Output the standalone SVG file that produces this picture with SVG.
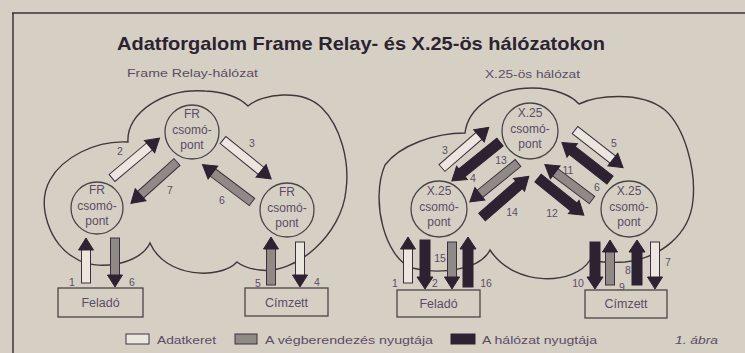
<svg xmlns="http://www.w3.org/2000/svg" width="745" height="353" viewBox="0 0 745 353">
<style>
.bg{fill:#d6d0c4}
.frame{stroke:#3a3438;stroke-width:1.5;fill:none}
.cloud{fill:none;stroke:#3e383c;stroke-width:1.4}
.node{fill:#d6d0c4;stroke:#4a4448;stroke-width:1.3}
.box{fill:#d6d0c4;stroke:#4a4448;stroke-width:1.3}
.t{font-family:"Liberation Sans",Arial,sans-serif;fill:#5b4c66}
.nt{font-size:12px;text-anchor:middle}
.num{font-size:10.5px;text-anchor:middle}
.bt{font-size:12.5px;text-anchor:middle}
.w{fill:#ebe7df;stroke:#3a3040;stroke-width:1}
.g{fill:#8f8a86;stroke:#3a3040;stroke-width:1}
.d{fill:#2c2232;stroke:#2c2232;stroke-width:1}
.hd{fill:#2c2232;stroke:#2c2232;stroke-width:1}
</style>
<rect class="bg" x="0" y="0" width="745" height="353"/>
<path class="frame" d="M12,13 H745 M13,13 V353"/>
<text x="117" y="50" font-family="'Liberation Sans',Arial,sans-serif" font-weight="bold" font-size="19" fill="#2a2430" textLength="488" lengthAdjust="spacingAndGlyphs">Adatforgalom Frame Relay- és X.25-ös hálózatokon</text>
<text class="t" x="127" y="77" font-size="11.5" textLength="131" lengthAdjust="spacingAndGlyphs">Frame Relay-hálózat</text>
<text class="t" x="485" y="78" font-size="11" textLength="95" lengthAdjust="spacingAndGlyphs">X.25-ös hálózat</text>

<g id="clouds">
<path id="cloud-fr" class="cloud" d="M128,142 C126,112 165,88 205,91 C225,92 240,98 248,106 C262,94 302,88 322,108 C340,126 350,160 346,190 C342,235 295,275 260,270 C250,269 242,266 237,262 C220,280 165,278 150,243 C140,265 95,272 75,258 C50,245 36,205 50,180 C62,158 95,140 128,142 Z"/>
<path id="cloud-x25" class="cloud" d="M465,133 C468,108 495,88 532,88 C555,88 572,96 579,104 C595,96 640,90 665,110 C685,128 696,170 693,200 C690,235 660,258 625,262 C610,263 598,262 590,260 C575,285 515,288 490,250 C480,270 440,275 412,268 C385,258 370,200 385,165 C400,145 435,133 465,133 Z"/>
</g>

<g id="connectors">
<g transform="translate(112,178) rotate(-40)"><rect class="w" x="0" y="-4.5" width="50" height="9"/><polygon class="hd" points="49,-8 62,0 49,8"/></g>
<g transform="translate(177,162) rotate(138)"><rect class="g" x="0" y="-4.5" width="50" height="9"/><polygon class="hd" points="49,-8 62,0 49,8"/></g>
<g transform="translate(223,140) rotate(39)"><rect class="w" x="0" y="-4.5" width="50" height="9"/><polygon class="hd" points="49,-8 62,0 49,8"/></g>
<g transform="translate(252,202) rotate(-143)"><rect class="g" x="0" y="-4.5" width="50" height="9"/><polygon class="hd" points="49,-8 62,0 49,8"/></g>
<g transform="translate(86,283) rotate(-90)"><rect class="w" x="0" y="-4.5" width="34" height="9"/><polygon class="hd" points="33,-7.5 45,0 33,7.5"/></g>
<g transform="translate(115,238) rotate(90)"><rect class="g" x="0" y="-4.5" width="38" height="9"/><polygon class="hd" points="37,-7.5 49,0 37,7.5"/></g>
<g transform="translate(271,285) rotate(-90)"><rect class="g" x="0" y="-4.5" width="37" height="9"/><polygon class="hd" points="36,-7.5 48,0 36,7.5"/></g>
<g transform="translate(300,242) rotate(90)"><rect class="w" x="0" y="-4.5" width="34" height="9"/><polygon class="hd" points="33,-7.5 45,0 33,7.5"/></g>
<g transform="translate(442,168) rotate(-41)"><rect class="w" x="0" y="-4.5" width="50" height="9"/><polygon class="hd" points="49,-8 62,0 49,8"/></g>
<g transform="translate(500,142) rotate(141)"><rect class="d" x="0" y="-5" width="50" height="10"/><polygon class="hd" points="49,-8.5 62,0 49,8.5"/></g>
<g transform="translate(518,163) rotate(141)"><rect class="g" x="0" y="-4.5" width="50" height="9"/><polygon class="hd" points="49,-8 62,0 49,8"/></g>
<g transform="translate(482,217) rotate(-41)"><rect class="d" x="0" y="-5" width="50" height="10"/><polygon class="hd" points="49,-8.5 62,0 49,8.5"/></g>
<g transform="translate(592,200) rotate(-143)"><rect class="g" x="0" y="-4.5" width="47" height="9"/><polygon class="hd" points="46,-8 59,0 46,8"/></g>
<g transform="translate(538,178) rotate(39)"><rect class="d" x="0" y="-5" width="47" height="10"/><polygon class="hd" points="46,-8.5 59,0 46,8.5"/></g>
<g transform="translate(610,180) rotate(-142)"><rect class="d" x="0" y="-5" width="49" height="10"/><polygon class="hd" points="48,-8.5 61,0 48,8.5"/></g>
<g transform="translate(575,130) rotate(38)"><rect class="w" x="0" y="-4.5" width="49" height="9"/><polygon class="hd" points="48,-8 61,0 48,8"/></g>
<g transform="translate(408,283) rotate(-90)"><rect class="w" x="0" y="-4.5" width="35" height="9"/><polygon class="hd" points="34,-7.5 46,0 34,7.5"/></g>
<g transform="translate(425,240) rotate(90)"><rect class="d" x="0" y="-5" width="38" height="10"/><polygon class="hd" points="37,-8 49,0 37,8"/></g>
<g transform="translate(452,242) rotate(90)"><rect class="g" x="0" y="-4.5" width="36" height="9"/><polygon class="hd" points="35,-7.5 47,0 35,7.5"/></g>
<g transform="translate(468,287) rotate(-90)"><rect class="d" x="0" y="-5" width="39" height="10"/><polygon class="hd" points="38,-8 50,0 38,8"/></g>
<g transform="translate(595,242) rotate(90)"><rect class="d" x="0" y="-5" width="36" height="10"/><polygon class="hd" points="35,-8 47,0 35,8"/></g>
<g transform="translate(610,285) rotate(-90)"><rect class="g" x="0" y="-4.5" width="34" height="9"/><polygon class="hd" points="33,-7.5 45,0 33,7.5"/></g>
<g transform="translate(637,285) rotate(-90)"><rect class="d" x="0" y="-5" width="34" height="10"/><polygon class="hd" points="33,-8 45,0 33,8"/></g>
<g transform="translate(655,242) rotate(90)"><rect class="w" x="0" y="-4.5" width="36" height="9"/><polygon class="hd" points="35,-7.5 47,0 35,7.5"/></g>
</g>

<g id="labels" class="t num">
<text x="120" y="155">2</text>
<text x="170" y="194">7</text>
<text x="252" y="147">3</text>
<text x="222" y="204">6</text>
<text x="72" y="286">1</text>
<text x="132" y="286">6</text>
<text x="258" y="287">5</text>
<text x="317" y="286">4</text>
<text x="445" y="154">3</text>
<text x="473" y="182">4</text>
<text x="501" y="164">13</text>
<text x="512" y="216">14</text>
<text x="568" y="174">11</text>
<text x="552" y="217">12</text>
<text x="597" y="191">6</text>
<text x="614" y="147">5</text>
<text x="395" y="287">1</text>
<text x="435" y="287">2</text>
<text x="440" y="262">15</text>
<text x="486" y="287">16</text>
<text x="578" y="287">10</text>
<text x="622" y="291">9</text>
<text x="628" y="274">8</text>
<text x="668" y="266">7</text>
</g>

<g id="node-fr-top"><circle class="node" cx="192" cy="132" r="27"/><text class="t nt" x="192" y="118">FR</text><text class="t nt" x="192" y="134">csomó-</text><text class="t nt" x="192" y="149">pont</text></g>
<g id="node-fr-left"><circle class="node" cx="97" cy="208" r="26"/><text class="t nt" x="97" y="194">FR</text><text class="t nt" x="97" y="210">csomó-</text><text class="t nt" x="97" y="225">pont</text></g>
<g id="node-fr-right"><circle class="node" cx="287" cy="210" r="27"/><text class="t nt" x="287" y="196">FR</text><text class="t nt" x="287" y="212">csomó-</text><text class="t nt" x="287" y="227">pont</text></g>
<g id="node-x25-top"><circle class="node" cx="530" cy="131" r="28"/><text class="t nt" x="530" y="117">X.25</text><text class="t nt" x="530" y="133">csomó-</text><text class="t nt" x="530" y="148">pont</text></g>
<g id="node-x25-left"><circle class="node" cx="439" cy="209" r="28"/><text class="t nt" x="439" y="195">X.25</text><text class="t nt" x="439" y="211">csomó-</text><text class="t nt" x="439" y="226">pont</text></g>
<g id="node-x25-right"><circle class="node" cx="629" cy="209" r="28"/><text class="t nt" x="629" y="195">X.25</text><text class="t nt" x="629" y="211">csomó-</text><text class="t nt" x="629" y="226">pont</text></g>

<g id="box-fr-felado"><rect class="box" x="58" y="288" width="85" height="29"/><text class="t bt" x="100.5" y="307">Feladó</text></g>
<g id="box-fr-cimzett"><rect class="box" x="245" y="288" width="83" height="28"/><text class="t bt" x="286.5" y="307">Címzett</text></g>
<g id="box-x25-felado"><rect class="box" x="397" y="290" width="83" height="27"/><text class="t bt" x="438.5" y="308">Feladó</text></g>
<g id="box-x25-cimzett"><rect class="box" x="585" y="290" width="82" height="28"/><text class="t bt" x="626" y="308">Címzett</text></g>

<g id="legend">
<rect class="w" x="126" y="334" width="23" height="10"/>
<text class="t" x="157" y="344" font-size="11.5" textLength="59" lengthAdjust="spacingAndGlyphs">Adatkeret</text>
<rect class="g" x="235" y="334" width="22" height="10"/>
<text class="t" x="265" y="344" font-size="11.5" textLength="168" lengthAdjust="spacingAndGlyphs">A végberendezés nyugtája</text>
<rect class="d" x="451" y="334" width="24" height="10"/>
<text class="t" x="482" y="344" font-size="11.5" textLength="115" lengthAdjust="spacingAndGlyphs">A hálózat nyugtája</text>
<text class="t" x="675" y="344" font-size="11.5" font-style="italic" textLength="43" lengthAdjust="spacingAndGlyphs">1. ábra</text>
</g>
</svg>
